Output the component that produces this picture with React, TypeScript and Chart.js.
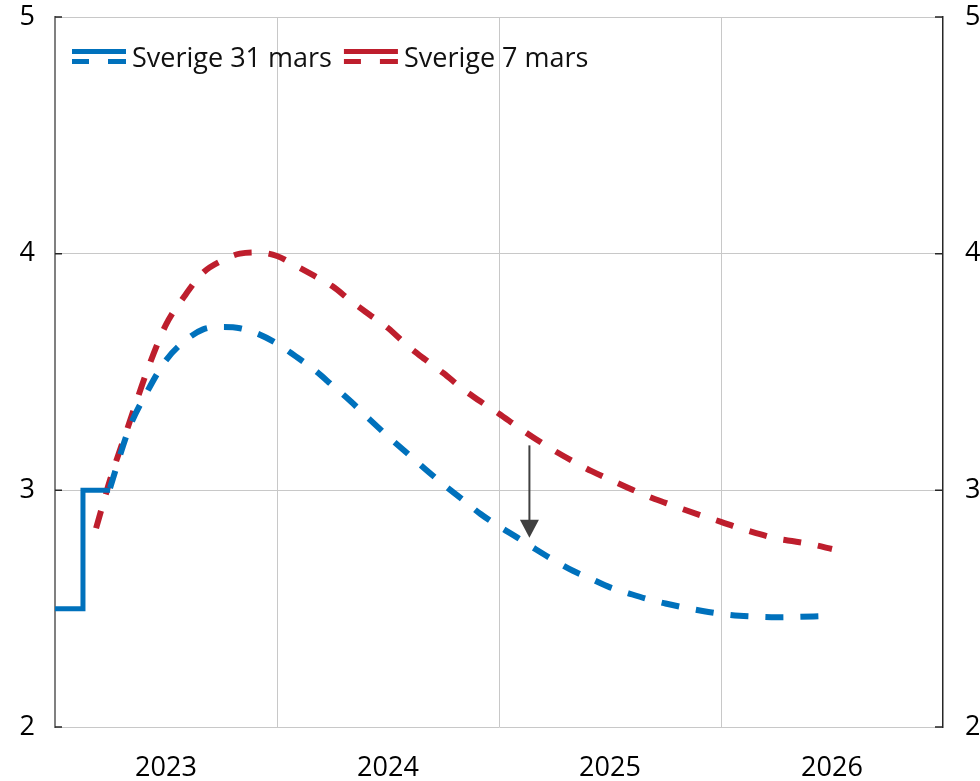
import React, { useEffect, useRef } from 'react';
import { Chart, registerables } from 'chart.js';

Chart.register(...registerables);

// ---- Data ----
const yearLabels = ['2023', '2024', '2025', '2026'];
const yearLabelPositions = [2023.5, 2024.5, 2025.5, 2026.5];
const yearGridLines = [2023, 2024, 2025, 2026, 2027];
const yTicks = [2, 3, 4, 5];

const legendLabels = ['Sverige 31 mars', 'Sverige 7 mars'];

// Outcome (solid) – policy rate
const outcomeDates = [2023.0, 2023.126, 2023.126, 2023.248];
const outcomeValues = [2.5, 2.5, 3.0, 3.0];

// Sverige 31 mars (dashed blue)
const blueDates = [
  2023.248, 2023.333, 2023.417, 2023.5, 2023.583, 2023.667, 2023.75, 2023.833, 2023.917,
  2024.0, 2024.083, 2024.167, 2024.25, 2024.333, 2024.417, 2024.5, 2024.583, 2024.667, 2024.75, 2024.833, 2024.917,
  2025.0, 2025.083, 2025.167, 2025.25, 2025.333, 2025.417, 2025.5, 2025.583, 2025.667, 2025.75, 2025.833, 2025.917,
  2026.0, 2026.083, 2026.167, 2026.25, 2026.333, 2026.417, 2026.5,
];
const blueValues = [
  3.01, 3.26, 3.42, 3.55, 3.63, 3.68, 3.69, 3.685, 3.66,
  3.62, 3.567, 3.51, 3.443, 3.375, 3.30, 3.228, 3.16, 3.09, 3.025, 2.963, 2.90,
  2.848, 2.80, 2.75, 2.703, 2.66, 2.625, 2.59, 2.565, 2.541, 2.522, 2.505, 2.49,
  2.478, 2.47, 2.466, 2.464, 2.465, 2.467, 2.47,
];

// Sverige 7 mars (dashed red)
const redDates = [
  2023.185, 2023.25, 2023.333, 2023.417, 2023.5, 2023.583, 2023.667, 2023.75, 2023.833, 2023.917,
  2024.0, 2024.083, 2024.167, 2024.25, 2024.333, 2024.417, 2024.5, 2024.583, 2024.667, 2024.75, 2024.833, 2024.917,
  2025.0, 2025.083, 2025.167, 2025.25, 2025.333, 2025.417, 2025.5, 2025.583, 2025.667, 2025.75, 2025.833, 2025.917,
  2026.0, 2026.083, 2026.167, 2026.25, 2026.333, 2026.417, 2026.5,
];
const redValues = [
  2.84, 3.05, 3.28, 3.51, 3.70, 3.82, 3.92, 3.97, 4.00, 4.005,
  3.99, 3.95, 3.907, 3.862, 3.80, 3.742, 3.686, 3.615, 3.553, 3.495, 3.431, 3.375,
  3.324, 3.269, 3.216, 3.167, 3.123, 3.081, 3.045, 3.01, 2.976, 2.947, 2.919, 2.892,
  2.867, 2.84, 2.817, 2.796, 2.784, 2.77, 2.752,
];

// Arrow annotation (data coordinates)
const arrowDate = 2025.137;
const arrowFrom = 3.19;
const arrowTo = 2.80;

// ---- Styles ----
const BLUE = '#0071BC';
const RED = '#BE1E2D';
const GRID = '#C8C8C8';
const FONT_FAMILY = "'Open Sans', 'Noto Sans', sans-serif";
const FONT_SIZE = 27;

const toPoints = (xs: number[], ys: number[]) => xs.map((x, i) => ({ x, y: ys[i] }));

const overlayPlugin = {
  id: 'overlay',
  afterDatasetsDraw(chart: any) {
    const { ctx, chartArea, scales } = chart;
    ctx.save();
    // inner tick marks on both y axes
    ctx.strokeStyle = '#262626';
    ctx.lineWidth = 1.5;
    yTicks.forEach((v) => {
      const py = scales.y.getPixelForValue(v);
      ctx.beginPath();
      ctx.moveTo(chartArea.left, py);
      ctx.lineTo(chartArea.left + 7, py);
      ctx.moveTo(chartArea.right, py);
      ctx.lineTo(chartArea.right - 8, py);
      ctx.stroke();
    });

    // arrow
    const ax = scales.x.getPixelForValue(arrowDate);
    const ay1 = scales.y.getPixelForValue(arrowFrom);
    const ay2 = scales.y.getPixelForValue(arrowTo);
    ctx.strokeStyle = '#404040';
    ctx.fillStyle = '#404040';
    ctx.lineWidth = 2;
    ctx.beginPath();
    ctx.moveTo(ax, ay1);
    ctx.lineTo(ax, ay2 - 14);
    ctx.stroke();
    ctx.beginPath();
    ctx.moveTo(ax - 9.5, ay2 - 18);
    ctx.lineTo(ax + 9.5, ay2 - 18);
    ctx.lineTo(ax, ay2);
    ctx.closePath();
    ctx.fill();

    // legend
    const colors = [BLUE, RED];
    ctx.font = `${FONT_SIZE}px ${FONT_FAMILY}`;
    ctx.textBaseline = 'alphabetic';
    ctx.textAlign = 'left';
    let x0 = chartArea.left + 17;
    const ySolid = chartArea.top + 34.5;
    const yDash = chartArea.top + 44.5;
    const textY = chartArea.top + 50;
    legendLabels.forEach((label, i) => {
      ctx.strokeStyle = colors[i];
      ctx.lineWidth = 5;
      ctx.lineCap = 'butt';
      ctx.beginPath();
      ctx.moveTo(x0, ySolid);
      ctx.lineTo(x0 + 54, ySolid);
      ctx.moveTo(x0, yDash);
      ctx.lineTo(x0 + 17, yDash);
      ctx.moveTo(x0 + 36, yDash);
      ctx.lineTo(x0 + 54, yDash);
      ctx.stroke();
      ctx.fillStyle = '#111111';
      ctx.fillText(label, x0 + 60, textY);
      x0 = x0 + 60 + ctx.measureText(label).width + 12;
    });
    ctx.restore();
  },
};

export default function App() {
  const canvasRef = useRef<HTMLCanvasElement | null>(null);

  useEffect(() => {
    if (!canvasRef.current) return;
    const font = { family: FONT_FAMILY, size: FONT_SIZE };
    const chart = new Chart(canvasRef.current, {
      type: 'line',
      data: {
        datasets: [
          {
            label: 'Utfall',
            data: toPoints(outcomeDates, outcomeValues),
            borderColor: BLUE,
            borderWidth: 5,
            pointRadius: 0,
            tension: 0,
            borderJoinStyle: 'miter',
            borderCapStyle: 'butt',
            order: 0,
          },
          {
            label: legendLabels[0],
            data: toPoints(blueDates, blueValues),
            borderColor: BLUE,
            borderWidth: 6,
            borderDash: [18, 17],
            pointRadius: 0,
            cubicInterpolationMode: 'monotone',
            borderCapStyle: 'butt',
            order: 1,
          },
          {
            label: legendLabels[1],
            data: toPoints(redDates, redValues),
            borderColor: RED,
            borderWidth: 6,
            borderDash: [18, 17],
            pointRadius: 0,
            cubicInterpolationMode: 'monotone',
            borderCapStyle: 'butt',
            order: 2,
          },
        ],
      },
      options: {
        responsive: false,
        animation: false,
        devicePixelRatio: 1,
        layout: { padding: { top: 17, left: 0, right: 0, bottom: 0 } },
        plugins: { legend: { display: false }, tooltip: { enabled: false } },
        scales: {
          x: {
            type: 'linear',
            min: 2023,
            max: 2027,
            afterBuildTicks: (scale: any) => {
              scale.ticks = [...yearGridLines, ...yearLabelPositions]
                .sort((a, b) => a - b)
                .map((v) => ({ value: v }));
            },
            ticks: {
              autoSkip: false,
              maxRotation: 0,
              padding: 25,
              font,
              color: '#000000',
              callback: (v: any) => {
                const i = yearLabelPositions.indexOf(Number(v));
                return i >= 0 ? yearLabels[i] : '';
              },
            },
            grid: {
              drawTicks: false,
              lineWidth: 1,
              color: (ctx: any) => {
                const v = ctx.tick ? ctx.tick.value : null;
                return v !== null && yearGridLines.includes(v) && v !== 2023 && v !== 2027
                  ? GRID
                  : 'rgba(0,0,0,0)';
              },
            },
            border: { display: false },
            afterFit: (s: any) => {
              s.height = 54;
              s.paddingLeft = 0;
              s.paddingRight = 0;
            },
          },
          y: {
            position: 'left',
            min: 2,
            max: 5,
            afterBuildTicks: (scale: any) => {
              scale.ticks = yTicks.map((v) => ({ value: v }));
            },
            ticks: { padding: 20, font, color: '#000000' },
            grid: { color: GRID, lineWidth: 1, drawTicks: false },
            border: { display: true, color: '#808080', width: 2 },
            afterFit: (s: any) => {
              s.width = 55;
              s.paddingTop = 0;
              s.paddingBottom = 0;
            },
          },
          y2: {
            position: 'right',
            min: 2,
            max: 5,
            afterBuildTicks: (scale: any) => {
              scale.ticks = yTicks.map((v) => ({ value: v }));
            },
            ticks: { padding: 22, font, color: '#000000' },
            grid: { display: false, drawTicks: false },
            border: { display: true, color: '#262626', width: 1.5 },
            afterFit: (s: any) => {
              s.width = 37;
              s.paddingTop = 0;
              s.paddingBottom = 0;
            },
          },
        },
      },
      plugins: [overlayPlugin],
    });
    return () => chart.destroy();
  }, []);

  return (
    <div style={{ position: 'absolute', left: 0, top: 0, width: 980, height: 781, background: '#ffffff' }}>
      <canvas ref={canvasRef} width={980} height={781} style={{ width: 980, height: 781, display: 'block' }} />
    </div>
  );
}
